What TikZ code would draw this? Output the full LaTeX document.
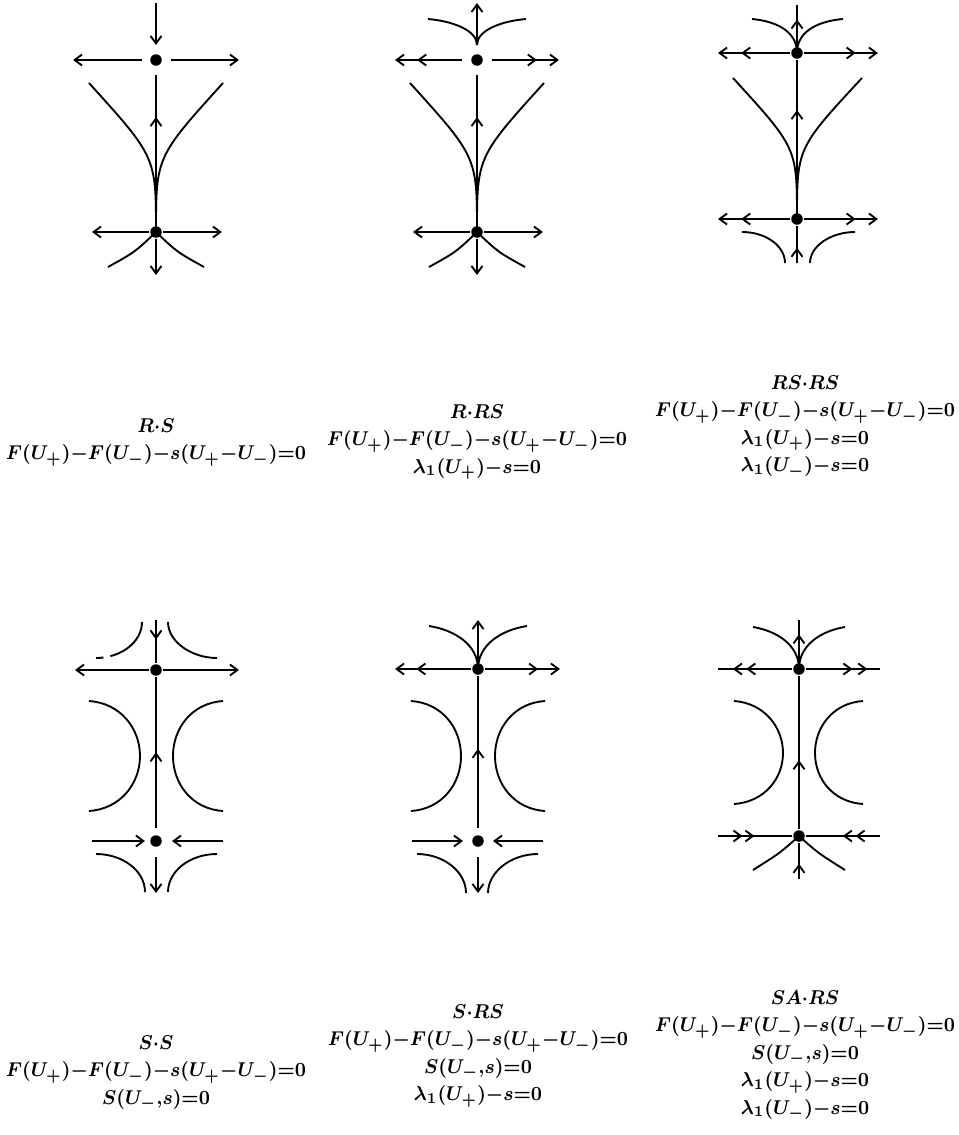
\documentclass[tikz,border=0pt]{standalone}
\usepackage{amsmath,amssymb}
\usepackage{graphicx}
\usepackage{tikz}
\usetikzlibrary{arrows.meta,decorations.markings}

\newcommand{\lblbox}[1]{\scalebox{0.91}[1]{\begin{tabular}{@{}c@{}}#1\end{tabular}}}

\tikzset{
  crit/.style={circle,fill=black,inner sep=0pt,minimum size=4.6pt},
  midarr/.style={postaction={decorate,decoration={markings,
      mark=at position #1 with {\arrow{>}}}}},
  lbl/.style={anchor=north,inner sep=0pt,
      font=\fontsize{8.4}{11}\selectfont\boldmath}
}

\begin{document}
\begin{tikzpicture}[x=0.4pt,y=-0.4pt,line width=0.75pt,
    >={Straight Barb[length=3pt,width=4.4pt]}]
  \useasboundingbox (0,0) rectangle (959,1135);

  % R.S
  \node[crit] (T1) at (156,60) {};
  \node[crit] (B1) at (156,232) {};
  \draw[->] (156,3) -- (156,45);
  \draw[->] (142,60) -- (73,60);
  \draw[->] (171,60) -- (239,60);
  \draw[midarr=0.72] (B1) -- (156,75);
  \draw (B1.center) .. controls (156,157) .. (89,83);
  \draw (B1.center) .. controls (156,157) .. (223,83);
  \draw[->] (B1) -- (92,232);
  \draw[->] (B1) -- (222,232);
  \draw[->] (B1) -- (156,275);
  \draw (108,267) .. controls (135,252) .. (B1.center);
  \draw (204,267) .. controls (177,252) .. (B1.center);

  % R.RS
  \node[crit] (T2) at (477,60) {};
  \node[crit] (B2) at (477,232) {};
  \draw[->] (477,45) -- (477,3);
  \draw (428,19) .. controls (452,21) and (477,30) .. (477,45);
  \draw (526,19) .. controls (502,21) and (477,30) .. (477,45);
  \draw[->,midarr=0.67] (462,60) -- (395,60);
  \draw[->,midarr=0.67] (492,60) -- (559,60);
  \draw[midarr=0.72] (B2) -- (477,75);
  \draw (B2.center) .. controls (477,157) .. (410,83);
  \draw (B2.center) .. controls (477,157) .. (544,83);
  \draw[->] (B2) -- (413,232);
  \draw[->] (B2) -- (543,232);
  \draw[->] (B2) -- (477,275);
  \draw (429,267) .. controls (456,252) .. (B2.center);
  \draw (525,267) .. controls (498,252) .. (B2.center);

  % RS.RS
  \node[crit] (T3) at (797,53) {};
  \node[crit] (B3) at (797,219) {};
  \draw[midarr=0.65] (T3) -- (797,5);
  \draw (752,19) .. controls (774,21) and (797,30) .. (T3.center);
  \draw (843,19) .. controls (820,21) and (797,30) .. (T3.center);
  \draw[->,midarr=0.68] (T3) -- (718,53);
  \draw[->,midarr=0.70] (T3) -- (878,53);
  \draw[midarr=0.67] (B3) -- (T3);
  \draw (B3.center) .. controls (797,148) .. (733,78);
  \draw (B3.center) .. controls (797,148) .. (862,78);
  \draw[->,midarr=0.68] (B3) -- (718,219);
  \draw[->,midarr=0.70] (B3) -- (878,219);
  \draw (742,232) .. controls (766,232) and (785,246) .. (785,263);
  \draw (855,232) .. controls (831,232) and (810,246) .. (810,263);
  \draw[midarr=0.41] (797,263) -- (B3);

  % S.S
  \node[crit] (T4) at (156,670) {};
  \node[crit] (B4) at (156,841) {};
  \draw[midarr=0.45] (156,620) -- (T4);
  \draw[dash pattern=on 3pt off 2.8pt on 60pt]
    (96,658) .. controls (121,658) and (142,642) .. (142,622);
  \draw (168,622) .. controls (168,642) and (192,658) .. (217,658);
  \draw[->] (T4) -- (75,670);
  \draw[->] (T4) -- (239,670);
  \draw[midarr=0.5] (156,828) -- (T4);
  \draw (89,701) .. controls (120,703) and (140,728) .. (140,756)
    .. controls (140,784) and (120,809) .. (89,811);
  \draw (223,701) .. controls (192,703) and (173,728) .. (173,756)
    .. controls (173,784) and (192,809) .. (223,811);
  \draw[->] (92,841) -- (145,841);
  \draw[->] (223,841) -- (172,841);
  \draw (96,854) .. controls (123,854) and (145,871) .. (145,892);
  \draw (217,854) .. controls (190,854) and (168,871) .. (168,892);
  \draw[->] (156,857) -- (156,893);

  % S.RS
  \node[crit] (T5) at (478,669) {};
  \node[crit] (B5) at (478,841) {};
  \draw[->] (T5) -- (478,620);
  \draw (429,626) .. controls (455,630) and (478,645) .. (T5.center);
  \draw (527,626) .. controls (501,630) and (478,645) .. (T5.center);
  \draw[->,midarr=0.72] (T5) -- (395,669);
  \draw[->,midarr=0.71] (T5) -- (560,669);
  \draw[midarr=0.52] (478,828) -- (T5);
  \draw (411,701) .. controls (442,703) and (461,728) .. (461,756)
    .. controls (461,784) and (442,809) .. (411,811);
  \draw (545,701) .. controls (514,703) and (495,728) .. (495,756)
    .. controls (495,784) and (514,809) .. (545,811);
  \draw[->] (412,841) -- (463,841);
  \draw[->] (543,841) -- (493,841);
  \draw (417,854) .. controls (444,854) and (466,872) .. (466,893);
  \draw (538,854) .. controls (511,854) and (488,872) .. (488,893);
  \draw[->] (478,857) -- (478,893);

  % SA.RS
  \node[crit] (T6) at (799,669) {};
  \node[crit] (B6) at (799,836) {};
  \draw[midarr=0.66] (T6) -- (799,620);
  \draw (753,627) .. controls (777,631) and (799,645) .. (T6.center);
  \draw (845,627) .. controls (821,631) and (799,645) .. (T6.center);
  \draw[midarr=0.62,midarr=0.8] (T6) -- (718,669);
  \draw[midarr=0.63,midarr=0.83] (T6) -- (880,669);
  \draw[midarr=0.45] (B6) -- (T6);
  \draw (734,701) .. controls (764,703) and (783,727) .. (783,753)
    .. controls (783,779) and (764,802) .. (734,804);
  \draw (863,701) .. controls (833,703) and (815,727) .. (815,753)
    .. controls (815,779) and (833,802) .. (863,804);
  \draw[midarr=0.33,midarr=0.49] (718,836) -- (B6);
  \draw[midarr=0.33,midarr=0.5] (880,836) -- (B6);
  \draw (753,870) .. controls (780,853) .. (B6.center);
  \draw (845,870) .. controls (818,853) .. (B6.center);
  \draw[midarr=0.42] (799,879) -- (B6);

  % Labels
  \node[lbl] (L1) at (156,412) {\lblbox{$R{\cdot}S$\\
    $F(U_+){-}F(U_-){-}s(U_+{-}U_-){=}0$}};
  \node[lbl] (L2) at (477,398) {\lblbox{$R{\cdot}RS$\\
    $F(U_+){-}F(U_-){-}s(U_+{-}U_-){=}0$\\
    $\lambda_1(U_+){-}s{=}0$}};
  \node[lbl] (L3) at (805,369) {\lblbox{$RS{\cdot}RS$\\
    $F(U_+){-}F(U_-){-}s(U_+{-}U_-){=}0$\\
    $\lambda_1(U_+){-}s{=}0$\\
    $\lambda_1(U_-){-}s{=}0$}};
  \node[lbl] (L4) at (156,1029) {\lblbox{$S{\cdot}S$\\
    $F(U_+){-}F(U_-){-}s(U_+{-}U_-){=}0$\\
    $S(U_-{,}s){=}0$}};
  \node[lbl] (L5) at (478,998) {\lblbox{$S{\cdot}RS$\\
    $F(U_+){-}F(U_-){-}s(U_+{-}U_-){=}0$\\
    $S(U_-{,}s){=}0$\\
    $\lambda_1(U_+){-}s{=}0$}};
  \node[lbl] (L6) at (805,984) {\lblbox{$SA{\cdot}RS$\\
    $F(U_+){-}F(U_-){-}s(U_+{-}U_-){=}0$\\
    $S(U_-{,}s){=}0$\\
    $\lambda_1(U_+){-}s{=}0$\\
    $\lambda_1(U_-){-}s{=}0$}};
\end{tikzpicture}
\end{document}
